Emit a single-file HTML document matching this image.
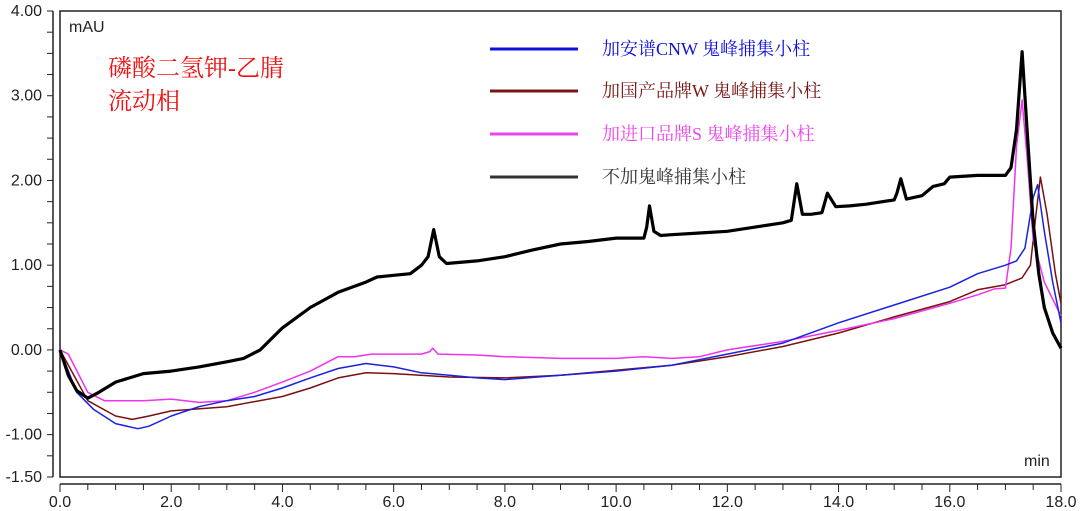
<!DOCTYPE html>
<html><head><meta charset="utf-8"><style>
html,body{margin:0;padding:0;background:#fff;width:1080px;height:511px;overflow:hidden}
svg{display:block}
.ax{font-family:"Liberation Sans",sans-serif;font-size:16px;fill:#222}
.lg{font-family:"Liberation Serif","Noto Serif CJK SC",serif;font-size:18px}
</style></head><body>
<svg id="chart" width="1080" height="511" viewBox="0 0 1080 511"></svg>
<script>
const xTicks=["0.0","2.0","4.0","6.0","8.0","10.0","12.0","14.0","16.0","18.0"];
const yTicks=["4.00","3.00","2.00","1.00","0.00","-1.00","-1.50"];
const blackT=[0,0.15,0.3,0.5,0.7,1.0,1.5,2.0,2.5,3.0,3.3,3.6,4.0,4.5,5.0,5.5,5.7,6.0,6.3,6.5,6.62,6.72,6.82,6.95,7.5,8.0,8.5,9.0,9.5,10.0,10.5,10.55,10.6,10.68,10.8,11.0,11.5,12.0,12.5,13.0,13.15,13.25,13.35,13.5,13.7,13.8,13.95,14.2,14.5,15.0,15.05,15.12,15.22,15.5,15.7,15.9,16.0,16.5,17.0,17.1,17.2,17.3,17.4,17.5,17.6,17.7,17.85,18.0];
const blackV=[0,-0.3,-0.48,-0.57,-0.5,-0.38,-0.28,-0.25,-0.2,-0.14,-0.1,0.0,0.26,0.5,0.68,0.8,0.86,0.88,0.9,1.0,1.1,1.42,1.1,1.02,1.05,1.1,1.18,1.25,1.28,1.32,1.32,1.45,1.7,1.4,1.35,1.36,1.38,1.4,1.45,1.5,1.53,1.96,1.6,1.6,1.62,1.85,1.69,1.7,1.72,1.77,1.85,2.02,1.78,1.82,1.93,1.96,2.04,2.06,2.06,2.15,2.6,3.52,2.5,1.5,0.9,0.5,0.2,0.02];
const blueT=[0,0.3,0.6,1.0,1.4,1.6,2.0,2.5,3.0,3.5,4.0,4.5,5.0,5.5,6.0,6.5,7.0,7.5,8.0,9.0,10.0,11.0,12.0,13.0,14.0,15.0,16.0,16.5,17.0,17.2,17.35,17.5,17.58,17.7,17.85,18.0];
const blueV=[0,-0.5,-0.7,-0.87,-0.93,-0.9,-0.78,-0.67,-0.6,-0.55,-0.45,-0.33,-0.22,-0.16,-0.2,-0.27,-0.3,-0.33,-0.35,-0.3,-0.25,-0.18,-0.05,0.08,0.32,0.53,0.74,0.9,1.0,1.05,1.2,1.8,1.95,1.4,0.8,0.32];
const brownT=[0,0.5,1.0,1.3,1.6,2.0,3.0,4.0,4.5,5.0,5.5,6.0,7.0,8.0,9.0,10.0,11.0,12.0,13.0,14.0,15.0,16.0,16.5,17.0,17.3,17.45,17.55,17.63,17.75,17.9,18.0];
const brownV=[0,-0.6,-0.78,-0.82,-0.78,-0.72,-0.67,-0.55,-0.45,-0.33,-0.27,-0.28,-0.32,-0.33,-0.3,-0.24,-0.18,-0.08,0.04,0.2,0.39,0.57,0.71,0.77,0.85,1.0,1.6,2.04,1.6,0.9,0.55];
const pinkT=[0,0.15,0.5,0.8,1.5,2.0,2.5,3.0,3.5,4.0,4.5,5.0,5.3,5.6,6.0,6.5,6.65,6.7,6.8,7.5,8.0,9.0,10.0,10.5,11.0,11.5,12.0,13.0,14.0,15.0,16.0,16.5,16.8,17.0,17.1,17.2,17.3,17.4,17.5,17.7,18.0];
const pinkV=[0,-0.05,-0.5,-0.6,-0.6,-0.58,-0.62,-0.6,-0.5,-0.38,-0.25,-0.08,-0.08,-0.05,-0.05,-0.05,-0.02,0.02,-0.05,-0.06,-0.08,-0.1,-0.1,-0.08,-0.1,-0.08,0.0,0.1,0.23,0.37,0.55,0.65,0.72,0.73,1.2,2.4,2.95,2.2,1.3,0.8,0.4];
const NS="http://www.w3.org/2000/svg";
const svg=document.getElementById('chart');
const X0=60,X1=1061,Y0=11,Y1=477;
function xs(t){return X0+(t/18)*(X1-X0);}
function ys(v){return Y1-((v+1.5)/5.5)*(Y1-Y0);}
function mk(tag,attrs){const e=document.createElementNS(NS,tag);for(const k in attrs)e.setAttribute(k,attrs[k]);svg.appendChild(e);return e;}
let r=mk('rect',{x:X0,y:Y0,width:X1-X0,height:Y1-Y0,fill:'none',stroke:'#222','stroke-width':1.5});


let ya=mk('line',{x1:53,y1:Y0,x2:53,y2:Y1,stroke:'#222','stroke-width':1.5});


for(let v=-1.5;v<=4.001;v+=0.25){const t=mk('line',{x1:47,y1:ys(v),x2:53,y2:ys(v),stroke:'#222'});

}
yTicks.forEach(s=>{const t=mk('text',{x:42,y:ys(parseFloat(s))+5,'text-anchor':'end',class:'ax'});t.textContent=s;

});
let xa=mk('line',{x1:X0,y1:484,x2:X1,y2:484,stroke:'#222','stroke-width':1.5});


for(let t=0;t<=18.001;t+=0.5){const l=mk('line',{x1:xs(t),y1:484,x2:xs(t),y2:(Math.abs(t%2)<0.01)?492:490,stroke:'#222'});

}
xTicks.forEach(s=>{const t=mk('text',{x:xs(parseFloat(s)),y:507,'text-anchor':'middle',class:'ax'});t.textContent=s;

});
let u=mk('text',{x:69,y:32,class:'ax'});u.textContent='mAU';


let m=mk('text',{x:1024,y:466,class:'ax'});m.textContent='min';


function series(T,V,color,w,name){const d=T.map((t,i)=>(i?'L':'M')+xs(t).toFixed(1)+','+ys(V[i]).toFixed(1)).join('');
const p=mk('path',{d:d,fill:'none',stroke:color,'stroke-width':w,'stroke-linejoin':'round'});

}
series(brownT,brownV,'#7a1010',1.5,'series-domestic-w');
series(pinkT,pinkV,'#ee33ee',1.5,'series-imported-s');
series(blueT,blueV,'#1a22dd',1.5,'series-cnw');
series(blackT,blackV,'#000',3.2,'series-no-column');
const leg=[["加安谱CNW 鬼峰捕集小柱","#1010dd",49],["加国产品牌W 鬼峰捕集小柱","#7a1515",91],["加进口品牌S 鬼峰捕集小柱","#ee44ee",134],["不加鬼峰捕集小柱","#333",177]];
leg.forEach(l=>{const ln=mk('line',{x1:490,y1:l[2],x2:578,y2:l[2],stroke:l[1],'stroke-width':3});


const t=mk('text',{x:602,y:l[2]+6,class:'lg',fill:l[1]});t.textContent=l[0];

});
const a=mk('text',{x:108,y:76,fill:'#ee1111','font-size':'24px','font-family':'"Liberation Serif","Noto Serif CJK SC",serif'});a.textContent='磷酸二氢钾-乙腈';


const b=mk('text',{x:108,y:109,fill:'#ee1111','font-size':'24px','font-family':'"Liberation Serif","Noto Serif CJK SC",serif'});b.textContent='流动相';


</script>
</body></html>
